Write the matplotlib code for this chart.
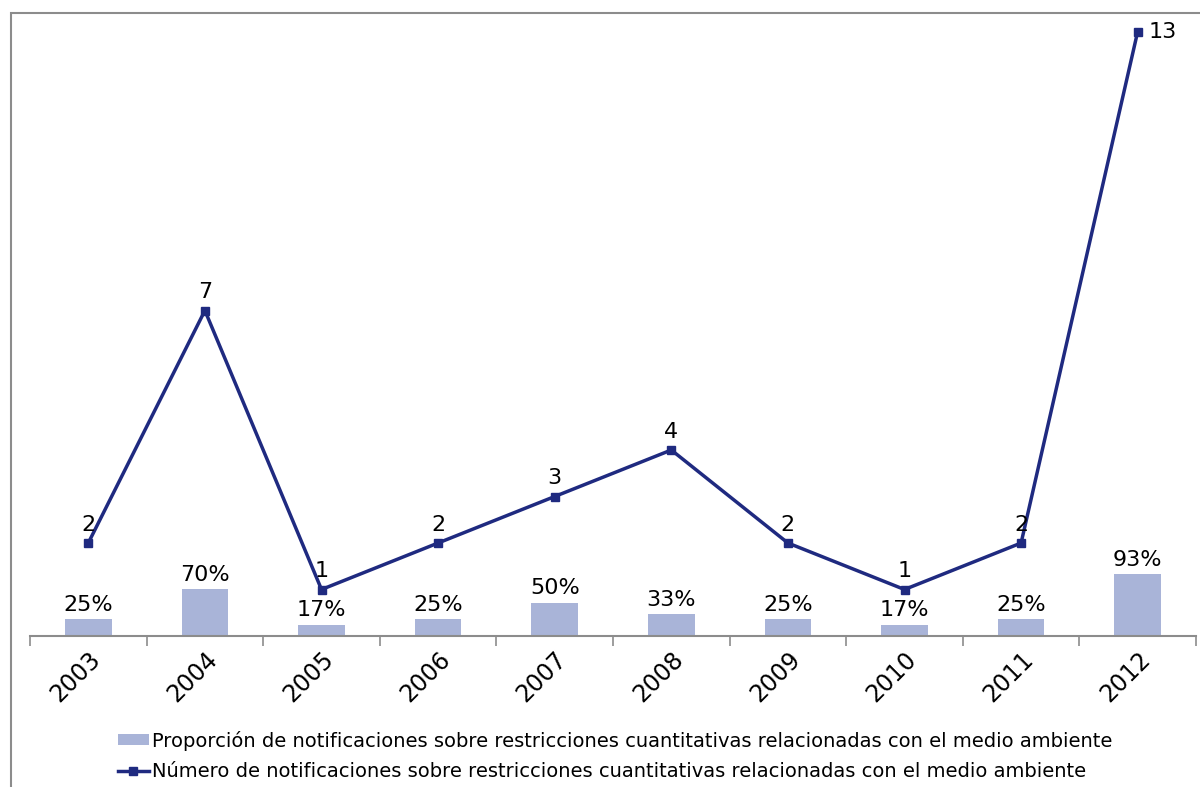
import matplotlib

matplotlib.use("Agg")
import matplotlib.pyplot as plt
import matplotlib.transforms as mtransforms
from matplotlib.patches import Rectangle

years = ["2003", "2004", "2005", "2006", "2007", "2008", "2009", "2010", "2011", "2012"]
counts = [2, 7, 1, 2, 3, 4, 2, 1, 2, 13]
shares = [0.25, 0.70, 0.17, 0.25, 0.50, 0.33, 0.25, 0.17, 0.25, 0.93]
share_labels = ["25%", "70%", "17%", "25%", "50%", "33%", "25%", "17%", "25%", "93%"]

bar_name = "Proporción de notificaciones sobre restricciones cuantitativas relacionadas con el medio ambiente"
line_name = "Número de notificaciones sobre restricciones cuantitativas relacionadas con el medio ambiente"

line_color = "#1f2a80"
bar_color = "#a9b4d8"

fig = plt.figure(figsize=(12, 7.87), dpi=100)
fig.patches.append(Rectangle((11 / 1200, -0.1), 1.2, 1.1 - 13 / 787, transform=fig.transFigure,
                             fill=False, edgecolor="#8c8c8c", linewidth=1.5))

ax = fig.add_axes([30 / 1200, 1 - 636 / 787, 1166 / 1200, 616 / 787])
ax2 = ax.twinx()
ax.set_zorder(2)
ax.patch.set_visible(False)

x = list(range(len(years)))
bars = ax2.bar(x, shares, width=0.4, color=bar_color, label=bar_name)
ax2.set_ylim(0, 616 / 67)
for xi, s, lab in zip(x, shares, share_labels):
    ax2.annotate(lab, (xi, s), xytext=(0, 3), textcoords="offset points",
                 ha="center", va="bottom", fontsize=16)

line, = ax.plot(x, counts, color=line_color, linewidth=2.5, marker="s", markersize=6,
                label=line_name)
ax.set_ylim(0, 616 / 46.5)
for xi, c in zip(x, counts):
    if c == max(counts):
        ax.annotate(str(c), (xi, c), xytext=(8, 0), textcoords="offset points",
                    ha="left", va="center", fontsize=16)
    else:
        ax.annotate(str(c), (xi, c), xytext=(0, 6), textcoords="offset points",
                    ha="center", va="bottom", fontsize=16)

ax.set_xlim(-0.5, len(years) - 0.5)
ax.set_xticks(x)
ax.set_xticklabels(years, rotation=45, ha="right", rotation_mode="anchor", fontsize=17)
shift = mtransforms.ScaledTranslation(-6 / 100, -4 / 100, fig.dpi_scale_trans)
for lbl in ax.get_xticklabels():
    lbl.set_transform(lbl.get_transform() + shift)
ax.set_xticks([i - 0.5 for i in range(len(years) + 1)], minor=True)
ax.tick_params(axis="x", which="major", length=0, pad=8)
ax.tick_params(axis="x", which="minor", length=7, color="#8c8c8c", width=1.2)
ax.set_yticks([])
ax2.set_yticks([])
for a in (ax, ax2):
    for side in ("top", "left", "right"):
        a.spines[side].set_visible(False)
ax.spines["bottom"].set_color("#8c8c8c")
ax.spines["bottom"].set_linewidth(1.5)
ax2.spines["bottom"].set_visible(False)

fig.legend(handles=[bars, line], loc="lower center", bbox_to_anchor=(0.5125, -0.015), ncol=1,
           frameon=False, fontsize=14, handlelength=1.6, handleheight=0.5,
           handletextpad=0.15, labelspacing=0.6)

fig.savefig("out.png")
plt.close(fig)
